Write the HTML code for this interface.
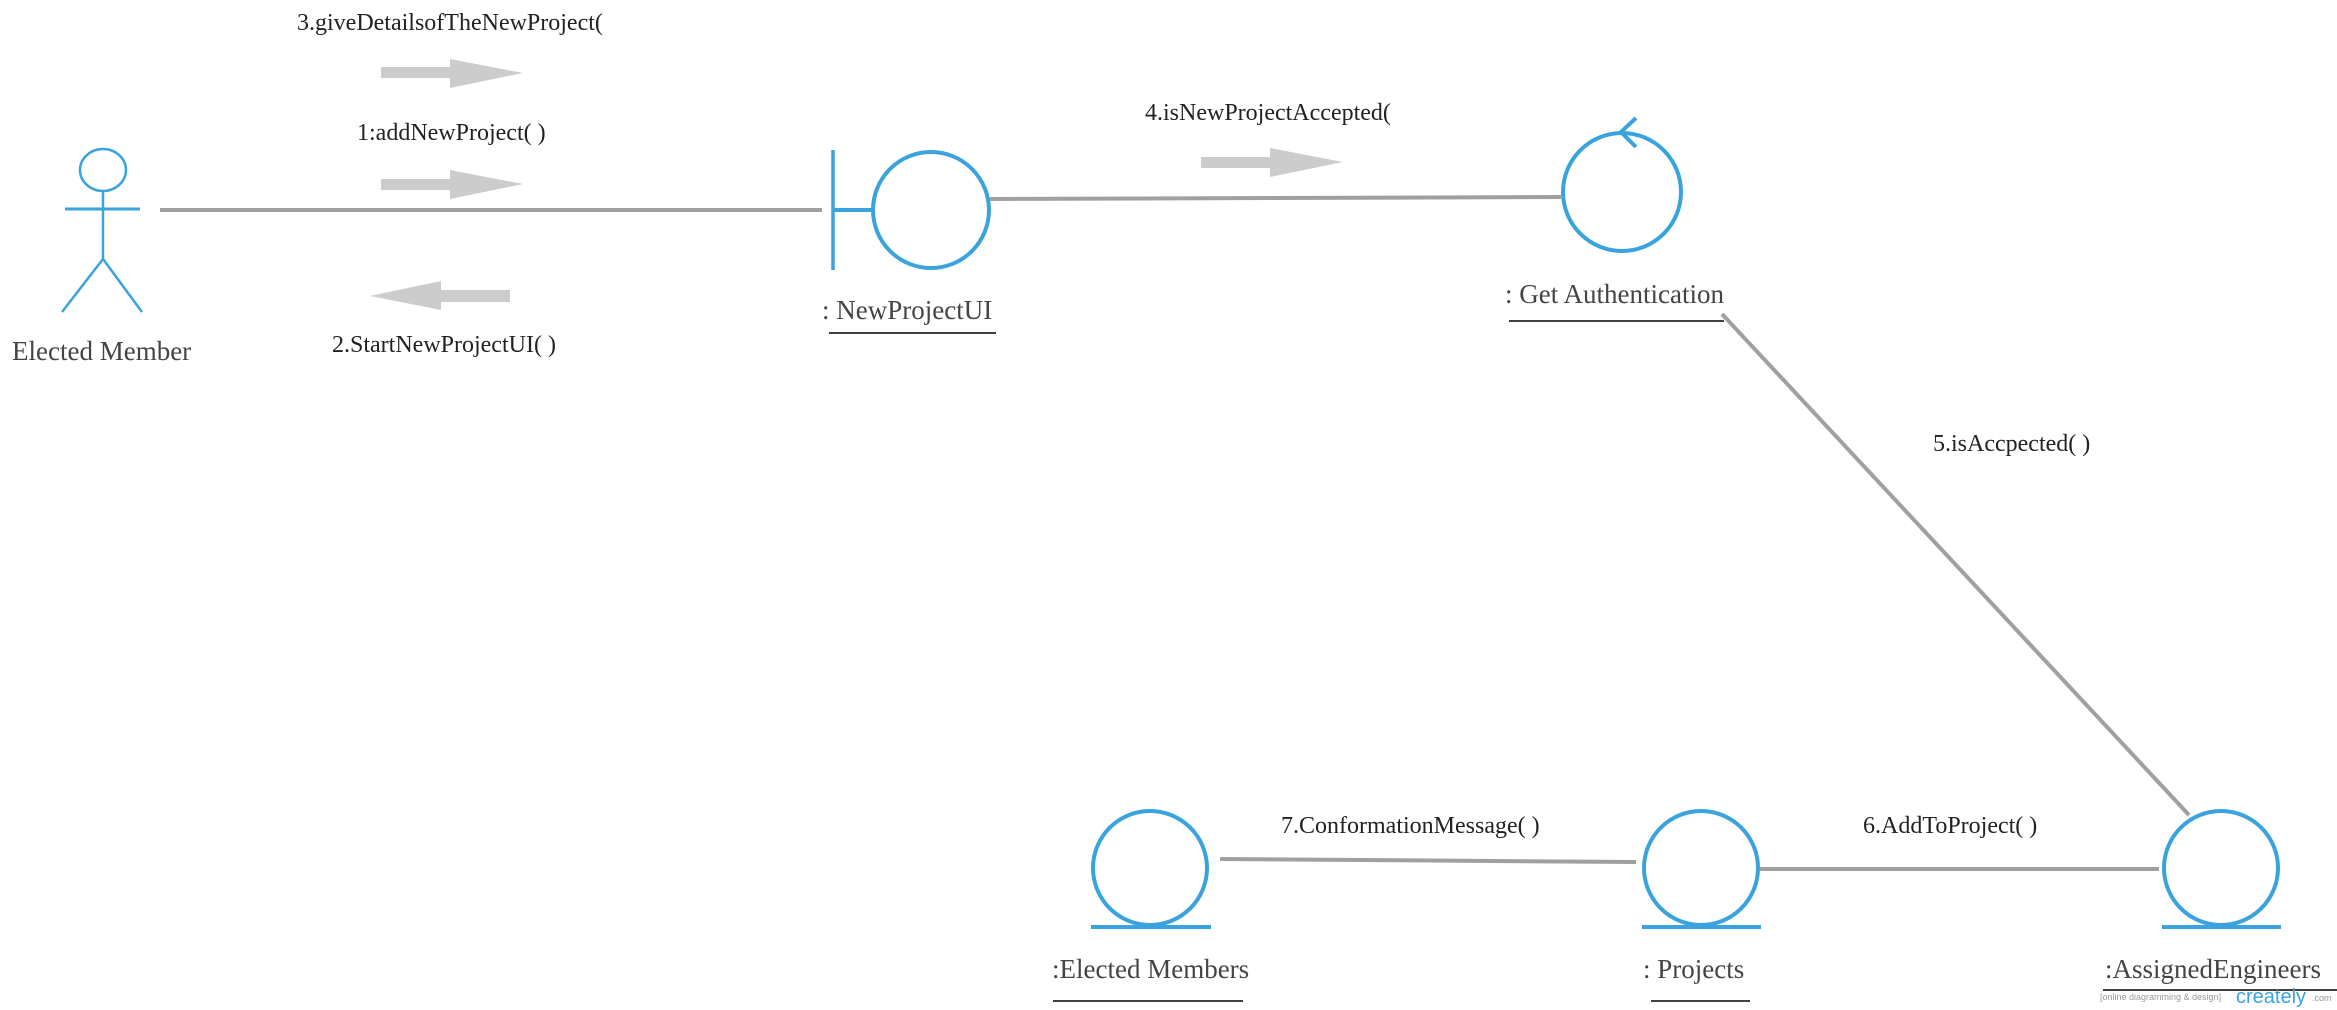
<!DOCTYPE html>
<html><head><meta charset="utf-8"><style>
html,body{margin:0;padding:0;background:#fff;width:2337px;height:1010px;overflow:hidden}
svg{display:block}
text{font-family:"Liberation Serif",serif}
</style></head><body>
<svg width="2337" height="1010" viewBox="0 0 2337 1010" xmlns="http://www.w3.org/2000/svg">
<g stroke="#3aa3dd" fill="none">
  <ellipse cx="103" cy="170" rx="23" ry="21" stroke-width="2.5"/>
  <line x1="103" y1="191" x2="103" y2="259" stroke-width="2.5"/>
  <line x1="65" y1="209" x2="140" y2="209" stroke-width="3"/>
  <line x1="103" y1="259" x2="62" y2="312" stroke-width="2.5"/>
  <line x1="103" y1="259" x2="142" y2="312" stroke-width="2.5"/>
  <line x1="833" y1="150" x2="833" y2="270" stroke-width="3.5"/>
  <line x1="833" y1="210" x2="873" y2="210" stroke-width="4"/>
  <circle cx="931" cy="210" r="58" stroke-width="4"/>
  <circle cx="1622" cy="192" r="59" stroke-width="4"/>
  <polyline points="1636,118 1621,132 1636,147" stroke-width="4"/>
  <circle cx="1150" cy="868" r="57" stroke-width="4"/>
  <line x1="1091" y1="927" x2="1211" y2="927" stroke-width="4"/>
  <circle cx="1701" cy="868" r="57" stroke-width="4"/>
  <line x1="1642" y1="927" x2="1761" y2="927" stroke-width="4"/>
  <circle cx="2221" cy="868" r="57" stroke-width="4"/>
  <line x1="2162" y1="927" x2="2281" y2="927" stroke-width="4"/>
</g>
<g stroke="#a0a0a0" stroke-width="4" fill="none">
  <line x1="160" y1="210" x2="822" y2="210"/>
  <line x1="990" y1="199" x2="1561" y2="197"/>
  <line x1="1722" y1="314" x2="2189" y2="815"/>
  <line x1="1220" y1="859" x2="1636" y2="862"/>
  <line x1="1760" y1="869" x2="2159" y2="869"/>
</g>
<g fill="#cccccc">
  <polygon points="381,67 450,67 450,59 523,73 450,88 450,78 381,78"/>
  <polygon points="381,179 450,179 450,170 523,184 450,199 450,190 381,190"/>
  <polygon points="510,290 441,290 441,281 370,296 441,310 441,302 510,302"/>
  <polygon points="1201,157 1270,157 1270,148 1343,162 1270,177 1270,168 1201,168"/>
</g>
<g font-size="24" fill="#222">
  <text x="297" y="30">3.giveDetailsofTheNewProject(</text>
  <text x="357" y="140">1:addNewProject( )</text>
  <text x="332" y="352">2.StartNewProjectUI( )</text>
  <text x="1145" y="120">4.isNewProjectAccepted(</text>
  <text x="1933" y="451">5.isAccpected( )</text>
  <text x="1281" y="833">7.ConformationMessage( )</text>
  <text x="1863" y="833">6.AddToProject( )</text>
</g>
<g font-size="27" fill="#444">
  <text x="12" y="360">Elected Member</text>
  <text x="822" y="319">: NewProjectUI</text>
  <text x="1505" y="303">: Get Authentication</text>
  <text x="1052" y="978">:Elected Members</text>
  <text x="1643" y="978">: Projects</text>
  <text x="2105" y="978">:AssignedEngineers</text>
</g>
<g stroke="#000" stroke-width="1.5">
  <line x1="829" y1="333" x2="996" y2="333"/>
  <line x1="1509" y1="321" x2="1724" y2="321"/>
  <line x1="1053" y1="1001" x2="1243" y2="1001"/>
  <line x1="1651" y1="1001" x2="1750" y2="1001"/>
  <line x1="2103" y1="990" x2="2337" y2="990"/>
</g>
<text x="2100" y="1000" font-size="9" fill="#999" style="font-family:'Liberation Sans',sans-serif">[online diagramming &amp; design]</text>
<text x="2236" y="1003" font-size="20" fill="#3aa3dd" style="font-family:'Liberation Sans',sans-serif">creately</text>
<text x="2312" y="1001" font-size="9" fill="#999" style="font-family:'Liberation Sans',sans-serif">.com</text>
</svg>
</body></html>
